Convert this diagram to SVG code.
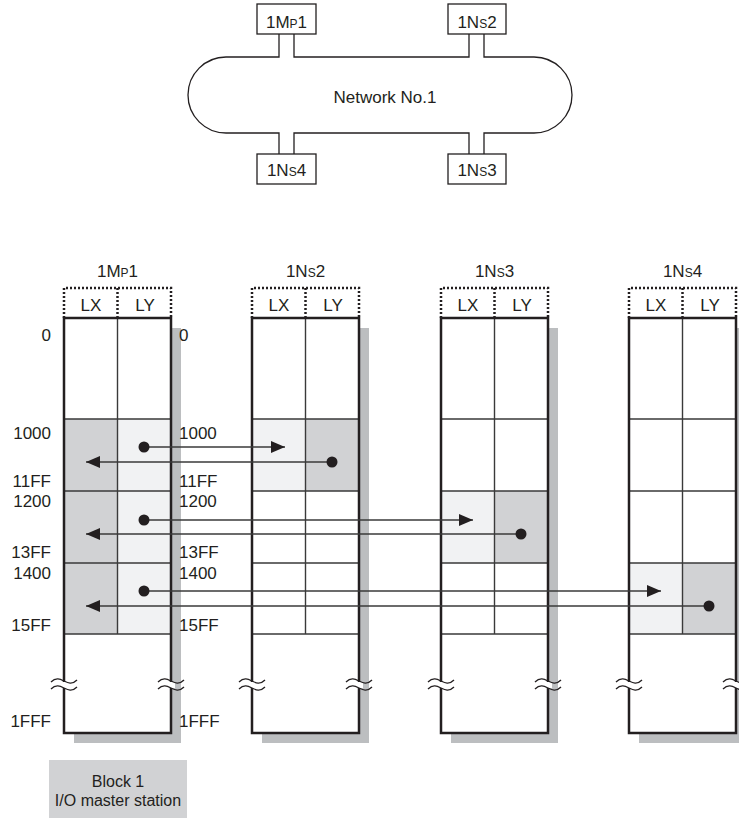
<svg xmlns="http://www.w3.org/2000/svg" width="739" height="818" viewBox="0 0 739 818">
<defs>
<style>
text{font-family:"Liberation Sans",Arial,sans-serif;font-size:17px;fill:#231f20}
.c{text-anchor:middle}
.r{text-anchor:end}
.sub{font-size:12px}
.net{fill:none;stroke:#231f20;stroke-width:1.3}
.box{fill:#fff;stroke:#231f20;stroke-width:1.3}
.shadow{fill:#bcbec0}
.outer{fill:none;stroke:#231f20;stroke-width:2.5}
.inner{fill:none;stroke:#3a3a3a;stroke-width:1.4}
.dot{fill:none;stroke:#231f20;stroke-width:2.5;stroke-dasharray:2 2}
.dark{fill:#d1d2d4}
.light{fill:#f1f2f3}
.arr{fill:none;stroke:#3a3a3a;stroke-width:1.4}
.src{fill:#231f20}
.wave{fill:none;stroke:#231f20;stroke-width:1.3}
</style>
<marker id="ah" markerUnits="userSpaceOnUse" markerWidth="16" markerHeight="14" refX="14" refY="6" orient="auto">
<path d="M0,0 L14,6 L0,12 Z" fill="#231f20"/>
</marker>
<path id="wv" class="wave" d="M-13,682 C-8,677 -4,679 0,681 S8,685 13,680 M-13,689 C-8,684 -4,686 0,688 S8,692 13,687"/>
</defs>
<rect width="739" height="818" fill="#fff"/>

<g id="network">
<path class="net" d="M279,34 V57 H226 A38,38 0 0 0 226,133 H279 V154"/>
<path class="net" d="M294,34 V57 H469 V34"/>
<path class="net" d="M484,34 V57 H534 A38,38 0 0 1 534,133 H484 V154"/>
<path class="net" d="M294,154 V133 H469 V154"/>
<text class="c" x="385" y="103">Network No.1</text>
</g>
<g id="top-1MP1">
<rect class="box" x="257" y="4" width="59" height="30"/>
<text class="c" x="286.5" y="28">1M<tspan class="sub">P</tspan>1</text>
</g>
<g id="top-1NS2">
<rect class="box" x="448" y="4" width="58" height="30"/>
<text class="c" x="477" y="28">1N<tspan class="sub">S</tspan>2</text>
</g>
<g id="top-1NS4">
<rect class="box" x="257" y="154" width="59" height="30"/>
<text class="c" x="286.5" y="176">1N<tspan class="sub">S</tspan>4</text>
</g>
<g id="top-1NS3">
<rect class="box" x="448" y="154" width="58" height="30"/>
<text class="c" x="477" y="176">1N<tspan class="sub">S</tspan>3</text>
</g>

<g id="col-1MP1">
<rect class="shadow" x="74" y="328" width="107" height="415"/>
<rect x="64" y="318" width="107" height="415" fill="#fff"/>
<rect class="dark" x="64" y="419" width="53.5" height="215"/>
<rect class="light" x="117.5" y="419" width="53.5" height="215"/>
<path class="inner" d="M64,419 H171 M64,491 H171 M64,563 H171 M64,634 H171 M117.5,318 V634"/>
<rect class="outer" x="64" y="318" width="107" height="415"/>
<path class="dot" d="M64,318 V288 H171 V318 M117.5,288 V318"/>
<text class="c" x="117.5" y="277">1M<tspan class="sub">P</tspan>1</text>
<text class="c" x="91" y="311">LX</text>
<text class="c" x="145" y="311">LY</text>
<text class="r" x="51" y="341">0</text>
<text class="r" x="51" y="439">1000</text>
<text class="r" x="51" y="487">11FF</text>
<text class="r" x="51" y="507">1200</text>
<text class="r" x="51" y="558">13FF</text>
<text class="r" x="51" y="579">1400</text>
<text class="r" x="51" y="631">15FF</text>
<text class="r" x="51" y="727">1FFF</text>
<text x="179" y="341">0</text>
<text x="179" y="439">1000</text>
<text x="179" y="487">11FF</text>
<text x="179" y="507">1200</text>
<text x="179" y="558">13FF</text>
<text x="179" y="579">1400</text>
<text x="179" y="631">15FF</text>
<text x="179" y="727">1FFF</text>
</g>

<g id="col-1NS2">
<rect class="shadow" x="262" y="328" width="107" height="415"/>
<rect x="252" y="318" width="107" height="415" fill="#fff"/>
<rect class="light" x="252" y="419" width="53.5" height="72"/>
<rect class="dark" x="305.5" y="419" width="53.5" height="72"/>
<path class="inner" d="M252,419 H359 M252,491 H359 M252,563 H359 M252,634 H359 M305.5,318 V634"/>
<rect class="outer" x="252" y="318" width="107" height="415"/>
<path class="dot" d="M252,318 V288 H359 V318 M305.5,288 V318"/>
<text class="c" x="305.5" y="277">1N<tspan class="sub">S</tspan>2</text>
<text class="c" x="279" y="311">LX</text>
<text class="c" x="333" y="311">LY</text>
</g>

<g id="col-1NS3">
<rect class="shadow" x="451" y="328" width="107" height="415"/>
<rect x="441" y="318" width="107" height="415" fill="#fff"/>
<rect class="light" x="441" y="491" width="53.5" height="72"/>
<rect class="dark" x="494.5" y="491" width="53.5" height="72"/>
<path class="inner" d="M441,419 H548 M441,491 H548 M441,563 H548 M441,634 H548 M494.5,318 V634"/>
<rect class="outer" x="441" y="318" width="107" height="415"/>
<path class="dot" d="M441,318 V288 H548 V318 M494.5,288 V318"/>
<text class="c" x="494.5" y="277">1N<tspan class="sub">S</tspan>3</text>
<text class="c" x="468" y="311">LX</text>
<text class="c" x="522" y="311">LY</text>
</g>

<g id="col-1NS4">
<rect class="shadow" x="639" y="328" width="107" height="415"/>
<rect x="629" y="318" width="107" height="415" fill="#fff"/>
<rect class="light" x="629" y="563" width="53.5" height="71"/>
<rect class="dark" x="682.5" y="563" width="53.5" height="71"/>
<path class="inner" d="M629,419 H736 M629,491 H736 M629,563 H736 M629,634 H736 M682.5,318 V634"/>
<rect class="outer" x="629" y="318" width="107" height="415"/>
<path class="dot" d="M629,318 V288 H736 V318 M682.5,288 V318"/>
<text class="c" x="682.5" y="277">1N<tspan class="sub">S</tspan>4</text>
<text class="c" x="656" y="311">LX</text>
<text class="c" x="710" y="311">LY</text>
</g>

<g id="breaks">
<g fill="#fff">
<rect x="60" y="682" width="8" height="6"/>
<rect x="167" y="682" width="8" height="6"/>
<rect x="248" y="682" width="8" height="6"/>
<rect x="355" y="682" width="8" height="6"/>
<rect x="437" y="682" width="8" height="6"/>
<rect x="544" y="682" width="8" height="6"/>
<rect x="625" y="682" width="8" height="6"/>
<rect x="732" y="682" width="8" height="6"/>
</g>
<use href="#wv" x="64"/>
<use href="#wv" x="171"/>
<use href="#wv" x="252"/>
<use href="#wv" x="359"/>
<use href="#wv" x="441"/>
<use href="#wv" x="548"/>
<use href="#wv" x="629"/>
<use href="#wv" x="736"/>
</g>

<g id="connectors">
<path class="arr" d="M144,447 H285" marker-end="url(#ah)"/>
<path class="arr" d="M332,462 H86" marker-end="url(#ah)"/>
<path class="arr" d="M144,520 H473" marker-end="url(#ah)"/>
<path class="arr" d="M521,534 H86" marker-end="url(#ah)"/>
<path class="arr" d="M144,591 H661" marker-end="url(#ah)"/>
<path class="arr" d="M709,606 H86" marker-end="url(#ah)"/>
<circle class="src" cx="144" cy="447" r="5.5"/>
<circle class="src" cx="332" cy="462" r="5.5"/>
<circle class="src" cx="144" cy="520" r="5.5"/>
<circle class="src" cx="521" cy="534" r="5.5"/>
<circle class="src" cx="144" cy="591" r="5.5"/>
<circle class="src" cx="709" cy="606" r="5.5"/>
</g>

<g id="legend">
<rect class="dark" x="49" y="760" width="138" height="58"/>
<text class="c" x="118" y="787" style="font-size:16px">Block 1</text>
<text class="c" x="118" y="806" style="font-size:16px">I/O master station</text>
</g>
</svg>
